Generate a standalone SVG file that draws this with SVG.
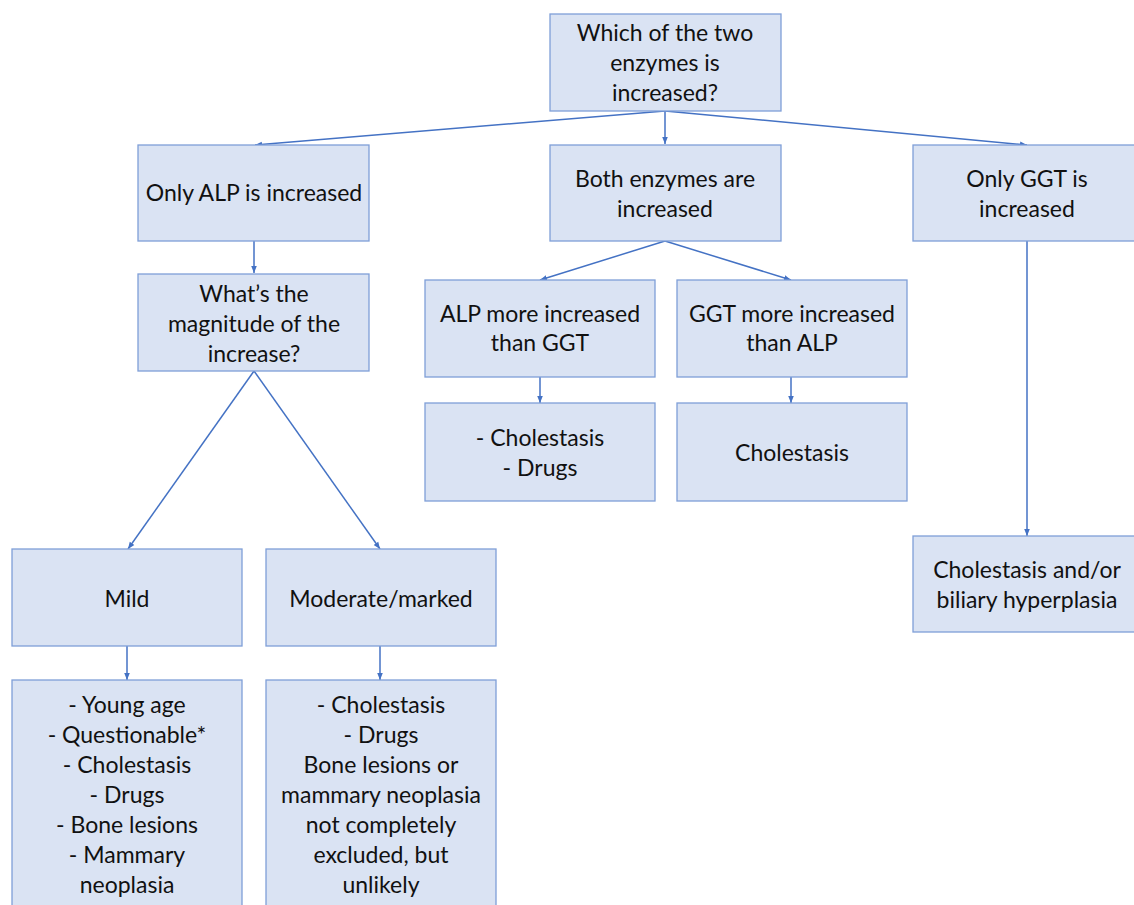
<svg xmlns="http://www.w3.org/2000/svg" width="1134" height="905" viewBox="0 0 1134 905">
<style>
.box{fill:#dae3f3;stroke:#7f9fd8;stroke-width:1.3}
.t{font-family:Lato,"Liberation Sans",sans-serif;font-size:23px;fill:#111;text-anchor:middle;dominant-baseline:central}
.c{stroke:#4472c4;stroke-width:1.5;fill:none;marker-end:url(#ah)}
</style>
<defs>
<marker id="ah" viewBox="0 0 10 10" refX="10" refY="5" markerWidth="7" markerHeight="7" markerUnits="userSpaceOnUse" orient="auto">
<path d="M0,1 L10,5 L0,9 Z" fill="#4472c4"/>
</marker>
</defs>
<rect width="1134" height="905" fill="#fff"/>
<g id="connectors">
<line class="c" x1="665" y1="111" x2="255" y2="145"/>
<line class="c" x1="665" y1="111" x2="665" y2="144"/>
<line class="c" x1="665" y1="111" x2="1027" y2="145"/>
<line class="c" x1="254" y1="241" x2="254" y2="273"/>
<line class="c" x1="665" y1="241" x2="540" y2="280"/>
<line class="c" x1="665" y1="241" x2="791" y2="280"/>
<line class="c" x1="540" y1="377" x2="540" y2="403"/>
<line class="c" x1="791" y1="377" x2="791" y2="403"/>
<line class="c" x1="254" y1="371" x2="128" y2="549"/>
<line class="c" x1="254" y1="371" x2="380" y2="549"/>
<line class="c" x1="127" y1="646" x2="127" y2="680"/>
<line class="c" x1="380" y1="646" x2="380" y2="680"/>
<line class="c" x1="1027" y1="241" x2="1027" y2="536"/>
</g>
<g id="n-top"><rect class="box" x="550" y="14" width="231" height="97"/>
<text class="t" x="665" y="32">Which of the two</text><text class="t" x="665" y="62">enzymes is</text><text class="t" x="665" y="92">increased?</text></g>
<g id="n-alp"><rect class="box" x="138" y="145" width="231" height="96"/>
<text class="t" x="254" y="192">Only ALP is increased</text></g>
<g id="n-both"><rect class="box" x="550" y="145" width="231" height="96"/>
<text class="t" x="665" y="178">Both enzymes are</text><text class="t" x="665" y="208">increased</text></g>
<g id="n-ggt"><rect class="box" x="913" y="145" width="231" height="96"/>
<text class="t" x="1027" y="178">Only GGT is</text><text class="t" x="1027" y="208">increased</text></g>
<g id="n-mag"><rect class="box" x="138" y="274" width="231" height="97"/>
<text class="t" x="254" y="293">What’s the</text><text class="t" x="254" y="323">magnitude of the</text><text class="t" x="254" y="353">increase?</text></g>
<g id="n-alpmore"><rect class="box" x="425" y="280" width="230" height="97"/>
<text class="t" x="540" y="313">ALP more increased</text><text class="t" x="540" y="342">than GGT</text></g>
<g id="n-ggtmore"><rect class="box" x="677" y="280" width="230" height="97"/>
<text class="t" x="792" y="313">GGT more increased</text><text class="t" x="792" y="342">than ALP</text></g>
<g id="n-chol1"><rect class="box" x="425" y="403" width="230" height="98"/>
<text class="t" x="540" y="437">- Cholestasis</text><text class="t" x="540" y="467">- Drugs</text></g>
<g id="n-chol2"><rect class="box" x="677" y="403" width="230" height="98"/>
<text class="t" x="792" y="452">Cholestasis</text></g>
<g id="n-mild"><rect class="box" x="12" y="549" width="230" height="97"/>
<text class="t" x="127" y="598">Mild</text></g>
<g id="n-mod"><rect class="box" x="266" y="549" width="230" height="97"/>
<text class="t" x="381" y="598">Moderate/marked</text></g>
<g id="n-biliary"><rect class="box" x="913" y="536" width="231" height="96"/>
<text class="t" x="1027" y="569">Cholestasis and/or</text><text class="t" x="1027" y="599">biliary hyperplasia</text></g>
<g id="n-mildlist"><rect class="box" x="12" y="680" width="230" height="240"/>
<text class="t" x="127" y="704">- Young age</text><text class="t" x="127" y="734">- Questionable*</text><text class="t" x="127" y="764">- Cholestasis</text><text class="t" x="127" y="794">- Drugs</text><text class="t" x="127" y="824">- Bone lesions</text><text class="t" x="127" y="854">- Mammary</text><text class="t" x="127" y="884">neoplasia</text></g>
<g id="n-modlist"><rect class="box" x="266" y="680" width="230" height="240"/>
<text class="t" x="381" y="704">- Cholestasis</text><text class="t" x="381" y="734">- Drugs</text><text class="t" x="381" y="764">Bone lesions or</text><text class="t" x="381" y="794">mammary neoplasia</text><text class="t" x="381" y="824">not completely</text><text class="t" x="381" y="854">excluded, but</text><text class="t" x="381" y="884">unlikely</text></g>
</svg>
